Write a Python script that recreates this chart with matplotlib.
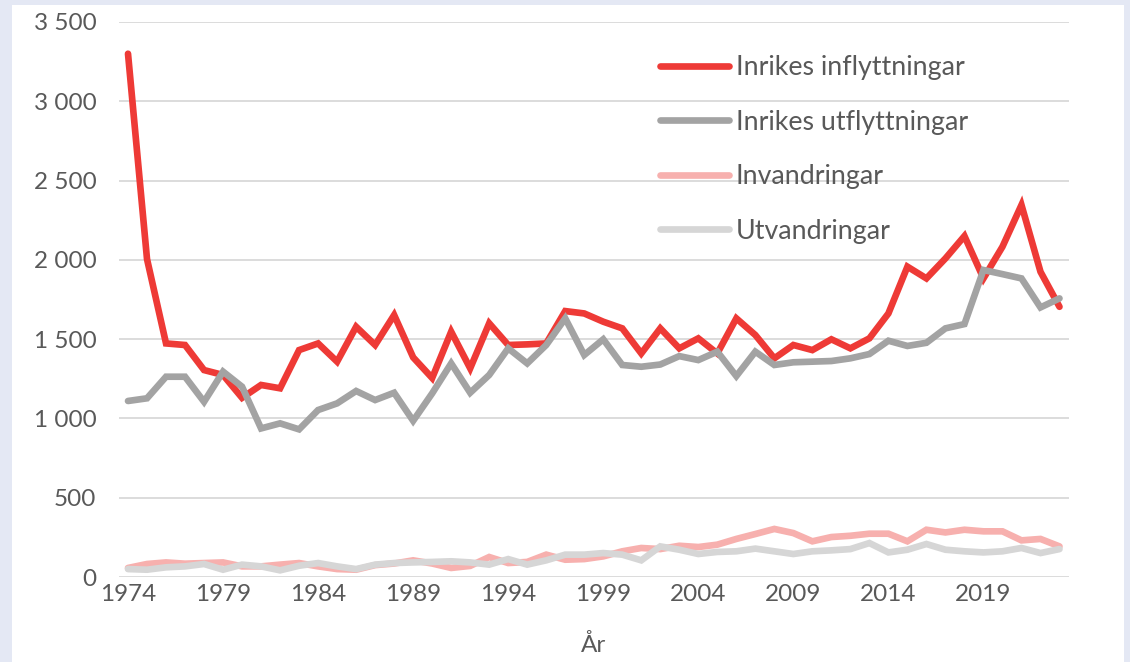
import matplotlib
matplotlib.use("Agg")
import matplotlib.pyplot as plt
from matplotlib.patches import Rectangle
from matplotlib.ticker import FuncFormatter

år = list(range(1974, 2024))

inrikes_inflyttningar = [
    3300, 2005, 1473, 1463, 1305, 1274, 1130, 1211, 1190, 1431,
    1473, 1358, 1578, 1463, 1652, 1385, 1255, 1547, 1316, 1600,
    1463, 1467, 1473, 1677, 1662, 1610, 1568, 1410, 1568, 1442,
    1505, 1410, 1631, 1526, 1379, 1463, 1431, 1499, 1442, 1505,
    1662, 1957, 1883, 2009, 2150, 1883, 2083, 2346, 1925, 1704,
]
inrikes_utflyttningar = [
    1110, 1127, 1263, 1263, 1105, 1295, 1200, 937, 969, 931,
    1053, 1095, 1173, 1116, 1162, 985, 1158, 1347, 1162, 1274,
    1442, 1347, 1463, 1631, 1400, 1499, 1337, 1326, 1340, 1393,
    1368, 1421, 1267, 1421, 1337, 1354, 1358, 1362, 1379, 1406,
    1490, 1457, 1477, 1568, 1595, 1936, 1910, 1883, 1700, 1757,
]
invandringar = [
    57, 82, 92, 84, 88, 92, 67, 67, 78, 88,
    67, 50, 46, 75, 85, 105, 85, 57, 70, 126,
    88, 95, 141, 109, 113, 130, 162, 183, 176, 197,
    189, 204, 240, 271, 303, 277, 225, 252, 260, 273,
    273, 225, 298, 281, 298, 288, 288, 231, 240, 193,
]
utvandringar = [
    50, 46, 61, 67, 82, 46, 78, 67, 42, 71,
    88, 67, 50, 78, 88, 92, 95, 99, 92, 78,
    113, 78, 105, 141, 141, 151, 141, 105, 193, 172,
    145, 158, 162, 179, 162, 145, 162, 168, 176, 214,
    155, 172, 208, 172, 162, 155, 162, 183, 151, 176,
]

serier = [
    ("Inrikes inflyttningar", inrikes_inflyttningar, "#ee3a36"),
    ("Inrikes utflyttningar", inrikes_utflyttningar, "#a3a3a3"),
    ("Invandringar", invandringar, "#f7b0ae"),
    ("Utvandringar", utvandringar, "#d6d6d6"),
]

textfärg = "#595959"
plt.rcParams["font.family"] = ["Lato", "DejaVu Sans"]

fig = plt.figure(figsize=(11.3, 6.62), dpi=100)
fig.patch.set_facecolor("#e4e8f4")
fig.patches.append(Rectangle((12 / 1130, 0), 1112 / 1130, 657 / 662,
                             transform=fig.transFigure, facecolor="white",
                             edgecolor="none", zorder=-10))

ax = fig.add_axes([118.5 / 1130, 85 / 662, 950.5 / 1130, 555 / 662])
ax.set_facecolor("none")

for namn, värden, färg in serier:
    ax.plot(år, värden, color=färg, lw=4.8, label=namn,
            solid_joinstyle="miter", solid_capstyle="round")

ax.set_xlim(1973.5, 2023.5)
ax.set_ylim(0, 3500)
ax.set_yticks(range(0, 3501, 500))
ax.yaxis.set_major_formatter(FuncFormatter(lambda v, p: f"{int(v):,}".replace(",", " ")))
ax.set_xticks(range(1974, 2024, 5))
ax.grid(axis="y", color="#d9d9d9", lw=1.3)
ax.set_axisbelow(True)
for s in ax.spines.values():
    s.set_visible(False)
ax.tick_params(axis="both", length=0, labelsize=17.5, labelcolor=textfärg)
ax.tick_params(axis="y", pad=16)
ax.tick_params(axis="x", pad=5)
ax.set_xlabel("År", fontsize=17.5, color=textfärg, labelpad=21)

leg = ax.legend(loc="upper left", bbox_to_anchor=(0.57, 0.94), frameon=False,
                fontsize=19.3, handlelength=2.55, handletextpad=0.26,
                labelspacing=1.1, borderpad=0, borderaxespad=0)
for t in leg.get_texts():
    t.set_color(textfärg)

fig.savefig("out.png", dpi=100)
